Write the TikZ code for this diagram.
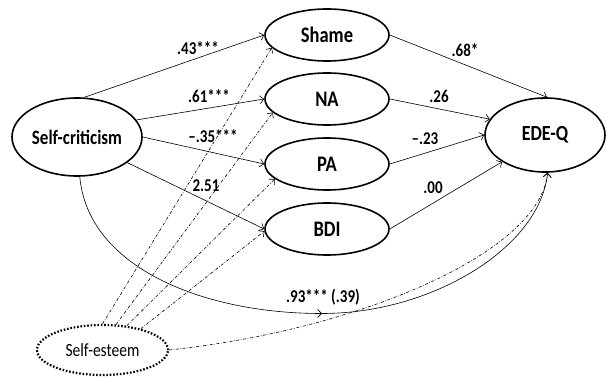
\documentclass[tikz,border=0pt]{standalone}
\usepackage{fontspec}
\setmainfont{Carlito}
\usetikzlibrary{shapes.geometric,arrows.meta}
\newcommand{\tallt}[1]{\scalebox{1}[1.2]{#1}}
\begin{document}
\begin{tikzpicture}[x=1pt,y=-1pt,
  var/.style={ellipse,draw,line width=1.6pt,inner sep=0pt,font=\fontsize{18.5}{20}\selectfont\bfseries},
  mid/.style={var,minimum width=124pt,minimum height=52pt},
  arr/.style={-{Straight Barb[length=4pt,width=8pt]},line width=0.6pt},
  dd/.style={arr,dash pattern=on 3pt off 1.6pt on 0.6pt off 1.6pt},
  lab/.style={font=\fontsize{15}{18}\selectfont\bfseries,inner sep=0pt}]
\useasboundingbox (0,0) rectangle (606,377);
\node[var,minimum width=130pt,minimum height=78pt,font=\fontsize{17}{20}\selectfont\bfseries] (sc) at (77,137) {\tallt{Self-criticism}};
\node[mid] (sh) at (327,35) {\tallt{Shame}};
\node[mid] (na) at (327,99) {\tallt{NA}};
\node[mid] (pa) at (327,164) {\tallt{PA}};
\node[mid] (bdi) at (327,229) {\tallt{BDI}};
\node[var,minimum width=120pt,minimum height=74pt,font=\fontsize{18}{20}\selectfont\bfseries] (ede) at (545,135) {\tallt{EDE-Q}};
\node[ellipse,draw,line width=2.2pt,dash pattern=on 1.6pt off 1.8pt,inner sep=0pt,
      minimum width=131pt,minimum height=50pt,font=\fontsize{15.5}{18}\selectfont] (se) at (102.5,350) {\tallt{Self-esteem}};
\coordinate (m) at (322,313.5);
% self-criticism paths
\draw[arr] (sc.80) -- (sh.west);
\draw[arr] (sc.16) -- (na.west);
\draw[arr] (sc.east) -- (pa.west);
\draw[arr] (sc.-27) -- (bdi.west);
\draw[arr] (sc.-86) .. controls +(8,90) and +(-120,0) .. (m);
\draw[arr] (m) .. controls +(110,0) and +(-8,75) .. (ede.-86);
% mediators to EDE-Q
\draw[arr] (sh.east) -- (ede.87);
\draw[arr] (na.east) -- (ede.164);
\draw[arr] (pa.east) -- (ede.180);
\draw[arr] (bdi.east) -- (ede.212);
% self-esteem moderation
\draw[dd] (se.north) -- (sh.193);
\draw[dd] (se.62) -- (na.194);
\draw[dd] (se.45) -- (pa.196);
\draw[dd] (se.29) -- (bdi.182);
\draw[dd] (se.east) .. controls +(190,-20) and +(-8,80) .. (ede.-86);
% labels
\node[lab] (l1) at (198,48) {\tallt{.43***}};
\node[lab] (l2) at (209,96) {\tallt{.61***}};
\node[lab] (l3) at (213,136) {\tallt{--.35***}};
\node[lab] (l4) at (206,186) {\tallt{2.51}};
\node[lab] (l5) at (465,50) {\tallt{.68*}};
\node[lab] (l6) at (439,96) {\tallt{.26}};
\node[lab] (l7) at (425,139) {\tallt{--.23}};
\node[lab] (l8) at (433,188) {\tallt{.00}};
\node[lab] (l9) at (323,297) {\tallt{.93*** (.39)}};
\end{tikzpicture}
\end{document}
